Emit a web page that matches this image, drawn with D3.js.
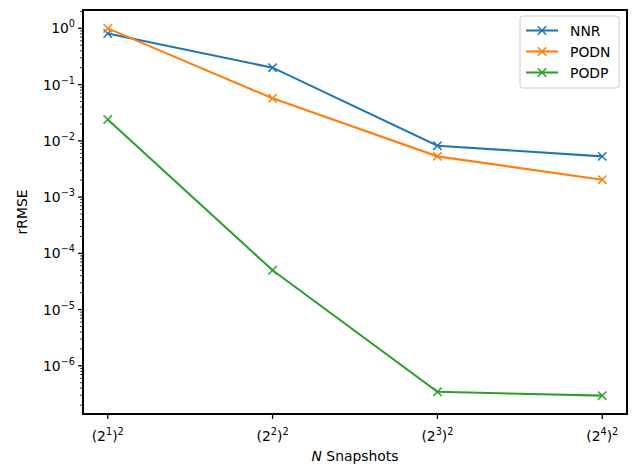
<!DOCTYPE html>
<html>
<head>
<meta charset="utf-8">
<script src="https://cdn.jsdelivr.net/npm/d3@7"></script>
<style>
  body { margin: 0; background: #fff; }
  svg { font-family: "DejaVu Sans", sans-serif; }
</style>
</head>
<body>
<div id="chart"></div>
<script>
// snapshot counts (2^k)^2, k = 1..4
const exponents = [1, 2, 3, 4];
const seriesNames = ["NNR", "PODN", "PODP"];
const nnr = [0.81, 0.20, 0.0082, 0.0053];
const podn = [1.0, 0.057, 0.0053, 0.00204];
const podp = [0.024, 5.0e-5, 3.45e-7, 2.95e-7];
const yTickExps = [0, -1, -2, -3, -4, -5, -6];
const colors = ["#1f77b4", "#ff7f0e", "#2ca02c"];

const W = 632, H = 465;
const m = { left: 83, right: 5, top: 10, bottom: 51 };
const iw = W - m.left - m.right, ih = H - m.top - m.bottom;

const svg = d3.select("#chart").append("svg")
    .attr("width", W).attr("height", H);

const g = svg.append("g").attr("transform", `translate(${m.left},${m.top})`);

// matplotlib-like 5% margins
const xs = d3.scaleLinear().domain([-0.15, exponents.length - 1 + 0.15]).range([0, iw]);
const allY = nnr.concat(podn, podp);
const lmin = Math.log10(d3.min(allY)), lmax = Math.log10(d3.max(allY));
const pad = (lmax - lmin) * 0.05;
const y = d3.scaleLog().domain([Math.pow(10, lmin - pad), Math.pow(10, lmax + pad)]).range([ih, 0]);

const px = (d, i) => xs(i);

// lines + x markers
const data = [nnr, podn, podp];
data.forEach((vals, si) => {
    const line = d3.line().x((d, i) => px(d, i)).y(d => y(d));
    g.append("path")
        .attr("d", line(vals))
        .attr("fill", "none")
        .attr("stroke", colors[si])
        .attr("stroke-width", 2.1);
    const s = 4.2;
    g.selectAll(null).data(vals).join("path")
        .attr("d", (d, i) => {
            const cx = px(d, i), cy = y(d);
            return `M${cx - s},${cy - s}L${cx + s},${cy + s}M${cx - s},${cy + s}L${cx + s},${cy - s}`;
        })
        .attr("stroke", colors[si])
        .attr("stroke-width", 1.5)
        .attr("fill", "none");
});

// frame
g.append("rect")
    .attr("width", iw).attr("height", ih)
    .attr("fill", "none").attr("stroke", "#000").attr("stroke-width", 2);

// y axis ticks: majors at decades, minors 2..9
const [d0, d1] = y.domain();
const ticks = g.append("g");
for (let e = -8; e <= 1; e++) {
    for (let k = 1; k <= 9; k++) {
        const v = k * Math.pow(10, e);
        if (v < d0 || v > d1) continue;
        const len = k === 1 ? 4.9 : 2.8;
        ticks.append("line")
            .attr("x1", 0).attr("x2", -len)
            .attr("y1", y(v)).attr("y2", y(v))
            .attr("stroke", "#000").attr("stroke-width", k === 1 ? 1.3 : 0.9);
    }
}
yTickExps.forEach(e => {
    const t = g.append("text")
        .attr("x", -8).attr("y", y(Math.pow(10, e)) + 5)
        .attr("text-anchor", "end")
        .attr("font-size", 13.9)
        .attr("fill", "#000");
    t.append("tspan").text("10");
    t.append("tspan").attr("dy", -6).attr("font-size", 9.7)
        .text(e === 0 ? "0" : "\u2212" + Math.abs(e));
});

// x axis ticks
exponents.forEach((k, i) => {
    const cx = xs(i);
    g.append("line")
        .attr("x1", cx).attr("x2", cx).attr("y1", ih).attr("y2", ih + 4.9)
        .attr("stroke", "#000").attr("stroke-width", 1.3);
    const t = g.append("text")
        .attr("x", cx).attr("y", ih + 27)
        .attr("text-anchor", "middle")
        .attr("font-size", 13.9)
        .attr("fill", "#000");
    t.append("tspan").text("(2");
    t.append("tspan").attr("dy", -6).attr("font-size", 9.7).text(k);
    t.append("tspan").attr("dy", 6).text(")");
    t.append("tspan").attr("dy", -6).attr("font-size", 9.7).text("2");
});

// axis labels
const xl = svg.append("text")
    .attr("x", m.left + iw / 2).attr("y", H - 4)
    .attr("text-anchor", "middle").attr("font-size", 13.9);
xl.append("tspan").attr("font-style", "italic").text("N");
xl.append("tspan").text(" Snapshots");

svg.append("text")
    .attr("transform", `translate(27,${m.top + ih / 2}) rotate(-90)`)
    .attr("text-anchor", "middle").attr("font-size", 13.9)
    .text("rRMSE");

// legend
const lg = g.append("g").attr("transform", `translate(${iw - 107},${6})`);
lg.append("rect")
    .attr("width", 99).attr("height", 72).attr("rx", 3)
    .attr("fill", "#fff").attr("fill-opacity", 0.8)
    .attr("stroke", "#ccc").attr("stroke-width", 1);
seriesNames.forEach((name, i) => {
    const yy = 14.5 + i * 21;
    lg.append("line")
        .attr("x1", 6).attr("x2", 38).attr("y1", yy).attr("y2", yy)
        .attr("stroke", colors[i]).attr("stroke-width", 2.1);
    const s = 4.2, cx = 22;
    lg.append("path")
        .attr("d", `M${cx - s},${yy - s}L${cx + s},${yy + s}M${cx - s},${yy + s}L${cx + s},${yy - s}`)
        .attr("stroke", colors[i]).attr("stroke-width", 1.5);
    lg.append("text")
        .attr("x", 50).attr("y", yy + 5)
        .attr("font-size", 13.9)
        .text(name);
});
</script>
</body>
</html>
